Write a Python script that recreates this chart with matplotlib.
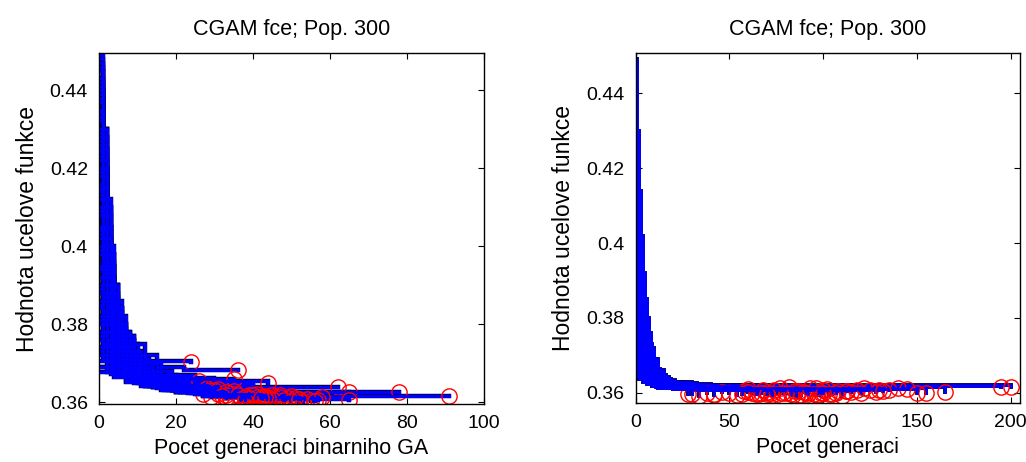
import matplotlib
matplotlib.use("Agg")
import matplotlib.pyplot as plt

plt.rcParams['font.family'] = ['Liberation Sans', 'DejaVu Sans']

title_text = "CGAM fce; Pop. 300"
ylabel_text = "Hodnota ucelove funkce"
xlabel_left = "Pocet generaci binarniho GA"
xlabel_right = "Pocet generaci"

left_xticks = [0, 20, 40, 60, 80, 100]
right_xticks = [0, 50, 100, 150, 200]
yticks = [0.36, 0.38, 0.40, 0.42, 0.44]
ytick_labels = ["0.36", "0.38", "0.4", "0.42", "0.44"]

# binary GA runs: generation breakpoints and best values (step curves)
bin_gens = [
    [0, 1, 2, 4, 7, 12, 24],
    [0, 1, 3, 5, 9, 15, 22, 36],
    [0, 2, 4, 6, 10, 16, 25, 40, 62],
    [0, 1, 2, 4, 8, 14, 22, 35, 50, 65],
    [0, 1, 3, 6, 10, 18, 30, 45, 78],
    [0, 2, 5, 9, 15, 25, 40, 91],
    [0, 1, 2, 4, 7, 12, 20, 35, 50, 65],
    [0, 1, 2, 3, 5, 8, 13, 20, 28],
    [0, 1, 2, 4, 6, 10, 16, 24, 31],
    [0, 1, 3, 5, 8, 12, 19, 27, 34],
    [0, 1, 2, 3, 6, 9, 14, 22, 30, 38],
    [0, 2, 3, 5, 8, 13, 20, 29, 42],
    [0, 1, 2, 4, 7, 11, 17, 26, 35, 45],
    [0, 1, 3, 4, 7, 10, 15, 23, 33, 47],
    [0, 1, 2, 5, 8, 12, 18, 25, 36, 52],
    [0, 2, 4, 6, 9, 14, 21, 30, 44, 55],
    [0, 1, 2, 4, 6, 9, 13, 19, 27, 40],
    [0, 1, 3, 5, 7, 11, 16, 24, 32, 43],
    [0, 1, 2, 4, 7, 10, 15, 22, 30, 39, 48],
    [0, 2, 4, 7, 11, 17, 25, 33, 41],
    [0, 1, 3, 6, 9, 14, 20, 28, 37, 46],
    [0, 1, 2, 5, 8, 12, 18, 26, 34, 44, 57],
    [0, 2, 3, 6, 9, 13, 19, 27, 38, 50],
    [0, 1, 3, 5, 8, 12, 17, 25, 35],
    [0, 1, 2, 4, 6, 10, 15, 22, 29],
    [0, 2, 4, 7, 10, 15, 22, 31, 43, 54],
    [0, 1, 3, 6, 10, 16, 23, 32, 45],
    [0, 2, 5, 8, 12, 18, 26, 37, 49],
    [0, 1, 4, 7, 11, 17, 24, 33],
    [0, 2, 4, 8, 13, 20, 29, 39],
    [0, 1, 3, 6, 10, 15, 22, 30, 42],
    [0, 3, 6, 10, 16, 24, 36, 48, 58],
    [0, 2, 5, 9, 14, 21, 30, 40],
    [0, 4, 8, 14, 22, 30],
    [0, 5, 12, 20, 26],
    [0, 3, 7, 13, 21, 32, 47],
    [0, 1, 2, 3, 5, 8, 12, 18, 26, 37],
    [0, 1, 2, 3, 4, 6, 9, 14, 21, 30, 45],
    [0, 1, 2, 3, 5, 7, 11, 16, 23, 33],
    [0, 1, 2, 4, 6, 9, 13, 20, 29, 40, 53],
    [0, 1, 2, 3, 5, 8, 12, 19, 27],
    [0, 1, 3, 5, 8, 13, 20, 28, 36, 46],
    [0, 2, 5, 9, 15, 24, 35],
    [0, 1, 3, 6, 11, 19, 30, 44],
    [0, 1, 2, 4, 7, 11, 18, 27, 39],
    [0, 1, 2, 3, 5, 9, 14, 21, 32, 43],
    [0, 2, 4, 7, 12, 19, 28, 41, 51],
    [0, 1, 3, 5, 9, 14, 22, 31],
    [0, 1, 2, 3, 4, 5, 7, 10, 14, 20, 29],
    [0, 1, 2, 3, 4, 6, 8, 11, 16, 23, 33],
    [0, 1, 2, 3, 4, 5, 7, 10, 15, 22, 31, 41],
    [0, 1, 2, 3, 5, 7, 9, 13, 18, 26, 35, 44],
    [0, 1, 2, 3, 4, 6, 9, 12, 17, 24, 34, 50],
    [0, 1, 2, 3, 4, 5, 8, 11, 15, 21, 30, 39],
    [0, 1, 2, 3, 5, 6, 8, 12, 17, 25, 36],
    [0, 1, 2, 3, 4, 6, 9, 13, 19, 28, 40, 56],
    [0, 1, 2, 3, 4, 5, 7, 10, 14, 20, 27, 37],
    [0, 1, 2, 3, 4, 6, 8, 11, 15, 21, 30, 43],
    [0, 1, 2, 3, 5, 7, 10, 14, 19, 26, 35, 48],
    [0, 1, 2, 3, 4, 6, 8, 12, 17, 23, 32],
    [0, 1, 2, 3, 4, 6, 9, 13, 18, 25, 34, 45],
    [0, 1, 2, 3, 5, 7, 10, 14, 20, 28, 38],
    [0, 1, 2, 4, 6, 8, 11, 15, 21, 30, 41, 52],
    [0, 1, 2, 3, 5, 8, 12, 17, 24, 33, 44],
    [0, 1, 3, 5, 8, 12, 17, 24, 33, 43],
    [0, 2, 4, 7, 11, 16, 23, 31, 40],
    [0, 1, 2, 3, 4, 5, 6, 8, 11, 15, 22, 30, 38],
    [0, 1, 2, 3, 4, 5, 7, 9, 12, 16, 22, 30, 42],
]
bin_vals = [
    [0.449, 0.415, 0.395, 0.382, 0.375, 0.3705, 0.3702],
    [0.437, 0.405, 0.385, 0.377, 0.372, 0.369, 0.3682, 0.3682],
    [0.430, 0.400, 0.383, 0.375, 0.370, 0.367, 0.365, 0.3638, 0.3638],
    [0.425, 0.410, 0.390, 0.378, 0.370, 0.366, 0.364, 0.3632, 0.3627, 0.3627],
    [0.420, 0.398, 0.380, 0.372, 0.368, 0.365, 0.3635, 0.3625, 0.3625],
    [0.418, 0.390, 0.377, 0.370, 0.366, 0.364, 0.3615, 0.3615],
    [0.410, 0.390, 0.380, 0.372, 0.367, 0.364, 0.3625, 0.3615, 0.3608, 0.3605],
    [0.445, 0.420, 0.400, 0.385, 0.376, 0.370, 0.366, 0.364, 0.3635],
    [0.440, 0.412, 0.392, 0.380, 0.373, 0.368, 0.365, 0.363, 0.3620],
    [0.435, 0.400, 0.382, 0.375, 0.369, 0.366, 0.3635, 0.3615, 0.3610],
    [0.432, 0.418, 0.398, 0.386, 0.375, 0.369, 0.365, 0.3628, 0.3612, 0.3600],
    [0.428, 0.395, 0.384, 0.376, 0.370, 0.366, 0.3638, 0.3622, 0.3610],
    [0.424, 0.405, 0.390, 0.379, 0.371, 0.367, 0.3645, 0.3630, 0.3618, 0.3605],
    [0.420, 0.400, 0.388, 0.378, 0.372, 0.368, 0.3655, 0.3638, 0.3625, 0.3618],
    [0.415, 0.398, 0.385, 0.375, 0.369, 0.366, 0.364, 0.3625, 0.3612, 0.3600],
    [0.412, 0.392, 0.380, 0.373, 0.368, 0.365, 0.363, 0.3618, 0.3608, 0.3602],
    [0.408, 0.396, 0.386, 0.377, 0.371, 0.367, 0.3645, 0.3630, 0.3620, 0.3612],
    [0.405, 0.392, 0.380, 0.374, 0.370, 0.3665, 0.3645, 0.3632, 0.3622, 0.3615],
    [0.402, 0.390, 0.381, 0.374, 0.369, 0.366, 0.364, 0.3628, 0.3618, 0.3610, 0.3604],
    [0.400, 0.385, 0.376, 0.370, 0.367, 0.3648, 0.3635, 0.3625, 0.3620],
    [0.398, 0.388, 0.379, 0.372, 0.368, 0.3655, 0.3638, 0.3626, 0.3617, 0.3608],
    [0.395, 0.387, 0.380, 0.373, 0.369, 0.366, 0.364, 0.3628, 0.3618, 0.3610, 0.3605],
    [0.392, 0.382, 0.377, 0.371, 0.368, 0.3655, 0.3640, 0.3628, 0.3620, 0.3615],
    [0.390, 0.382, 0.376, 0.372, 0.369, 0.3665, 0.3648, 0.3635, 0.3628],
    [0.388, 0.381, 0.376, 0.372, 0.369, 0.366, 0.3645, 0.3635, 0.3630],
    [0.386, 0.378, 0.373, 0.369, 0.3665, 0.3648, 0.3635, 0.3624, 0.3614, 0.3608],
    [0.384, 0.378, 0.373, 0.369, 0.3665, 0.3648, 0.3636, 0.3626, 0.3618],
    [0.382, 0.375, 0.370, 0.367, 0.365, 0.3635, 0.3625, 0.3616, 0.3610],
    [0.380, 0.375, 0.371, 0.368, 0.3658, 0.3642, 0.3632, 0.3625],
    [0.378, 0.373, 0.370, 0.367, 0.3652, 0.3638, 0.3626, 0.3618],
    [0.376, 0.372, 0.369, 0.3668, 0.3650, 0.3638, 0.3628, 0.3620, 0.3613],
    [0.374, 0.370, 0.368, 0.366, 0.3645, 0.3632, 0.3622, 0.3615, 0.3612],
    [0.372, 0.369, 0.3668, 0.3650, 0.3638, 0.3628, 0.3620, 0.3614],
    [0.3705, 0.368, 0.3662, 0.3648, 0.3636, 0.3630],
    [0.3678, 0.3668, 0.3660, 0.3655, 0.3655],
    [0.3690, 0.3672, 0.3655, 0.3640, 0.3628, 0.3618, 0.3612],
    [0.446, 0.425, 0.405, 0.390, 0.378, 0.371, 0.367, 0.3645, 0.3625, 0.3602],
    [0.442, 0.430, 0.410, 0.395, 0.384, 0.376, 0.370, 0.366, 0.3635, 0.3615, 0.3600],
    [0.438, 0.420, 0.402, 0.390, 0.380, 0.373, 0.368, 0.3650, 0.3630, 0.3610],
    [0.434, 0.415, 0.398, 0.384, 0.376, 0.370, 0.3665, 0.3640, 0.3622, 0.3608, 0.3600],
    [0.427, 0.405, 0.392, 0.382, 0.374, 0.369, 0.3655, 0.3632, 0.3620],
    [0.422, 0.402, 0.386, 0.377, 0.371, 0.367, 0.3645, 0.3628, 0.3615, 0.3603],
    [0.395, 0.380, 0.372, 0.368, 0.3665, 0.3660, 0.3660],
    [0.410, 0.392, 0.379, 0.372, 0.368, 0.3662, 0.3655, 0.3650],
    [0.416, 0.397, 0.384, 0.375, 0.369, 0.3660, 0.3640, 0.3626, 0.3616],
    [0.426, 0.408, 0.393, 0.382, 0.374, 0.368, 0.3650, 0.3632, 0.3618, 0.3607],
    [0.404, 0.386, 0.377, 0.370, 0.3665, 0.3645, 0.3630, 0.3618, 0.3610],
    [0.413, 0.394, 0.381, 0.374, 0.369, 0.3660, 0.3642, 0.3633],
    [0.448, 0.430, 0.410, 0.395, 0.385, 0.378, 0.372, 0.368, 0.365, 0.363, 0.3612],
    [0.443, 0.418, 0.400, 0.390, 0.381, 0.374, 0.370, 0.367, 0.3648, 0.3632, 0.3618],
    [0.439, 0.422, 0.405, 0.392, 0.384, 0.377, 0.372, 0.368, 0.3655, 0.3638, 0.3622, 0.3612],
    [0.433, 0.410, 0.395, 0.384, 0.376, 0.371, 0.368, 0.3655, 0.3638, 0.3625, 0.3615, 0.3608],
    [0.429, 0.412, 0.398, 0.388, 0.380, 0.373, 0.369, 0.3665, 0.3645, 0.3630, 0.3618, 0.3604],
    [0.423, 0.408, 0.396, 0.386, 0.379, 0.374, 0.369, 0.366, 0.3642, 0.3628, 0.3617, 0.3610],
    [0.419, 0.404, 0.392, 0.383, 0.376, 0.372, 0.369, 0.3662, 0.3643, 0.3628, 0.3618],
    [0.414, 0.401, 0.390, 0.382, 0.376, 0.371, 0.367, 0.3648, 0.3632, 0.3620, 0.3611, 0.3603],
    [0.409, 0.397, 0.387, 0.380, 0.375, 0.371, 0.368, 0.3655, 0.3638, 0.3625, 0.3615, 0.3607],
    [0.403, 0.393, 0.385, 0.379, 0.374, 0.370, 0.3675, 0.3655, 0.3640, 0.3627, 0.3617, 0.3609],
    [0.399, 0.390, 0.383, 0.377, 0.372, 0.3685, 0.3660, 0.3642, 0.3630, 0.3620, 0.3612, 0.3606],
    [0.394, 0.386, 0.380, 0.376, 0.372, 0.369, 0.3668, 0.3648, 0.3634, 0.3624, 0.3616],
    [0.389, 0.383, 0.378, 0.374, 0.371, 0.368, 0.3658, 0.3642, 0.3630, 0.3621, 0.3614, 0.3609],
    [0.385, 0.380, 0.376, 0.373, 0.3695, 0.3670, 0.3652, 0.3638, 0.3627, 0.3619, 0.3613],
    [0.381, 0.377, 0.374, 0.371, 0.3685, 0.3665, 0.3650, 0.3637, 0.3627, 0.3619, 0.3612, 0.3607],
    [0.377, 0.374, 0.372, 0.3698, 0.3678, 0.3660, 0.3646, 0.3634, 0.3625, 0.3617, 0.3611],
    [0.373, 0.371, 0.369, 0.3672, 0.3656, 0.3642, 0.3632, 0.3624, 0.3617, 0.3612],
    [0.369, 0.3678, 0.3665, 0.3652, 0.3641, 0.3632, 0.3625, 0.3620, 0.3618],
    [0.447, 0.428, 0.412, 0.398, 0.388, 0.381, 0.376, 0.371, 0.367, 0.3645, 0.3628, 0.3615, 0.3606],
    [0.441, 0.425, 0.408, 0.396, 0.387, 0.380, 0.374, 0.370, 0.367, 0.3648, 0.3632, 0.3620, 0.3611],
]

# real-coded GA runs
real_gens = [
    [0, 1, 2, 3, 4, 6, 9, 14, 22, 200],
    [0, 1, 2, 3, 5, 7, 11, 17, 26, 195],
    [0, 1, 2, 4, 6, 9, 14, 21, 40, 165],
    [0, 1, 2, 3, 5, 8, 12, 18, 30, 60, 155],
    [0, 1, 2, 3, 5, 8, 12, 19, 33, 80, 140],
    [0, 1, 2, 3, 4, 6, 9, 13, 20, 45, 135],
    [0, 1, 2, 3, 5, 7, 10, 15, 24, 50, 128],
    [0, 1, 2, 4, 6, 8, 12, 18, 28, 70, 120],
    [0, 1, 2, 3, 4, 6, 9, 14, 22, 55, 112],
    [0, 1, 2, 3, 5, 7, 10, 16, 25, 48, 105],
    [0, 1, 2, 3, 4, 6, 8, 12, 19, 40, 100],
    [0, 1, 2, 4, 5, 8, 11, 17, 26, 60, 97],
    [0, 1, 2, 3, 5, 7, 10, 14, 21, 45, 93],
    [0, 1, 2, 3, 4, 6, 9, 13, 20, 52, 90],
    [0, 1, 2, 3, 5, 8, 11, 16, 24, 50, 86],
    [0, 1, 2, 4, 6, 8, 12, 17, 27, 55, 82],
    [0, 1, 2, 3, 4, 7, 10, 15, 23, 45, 78],
    [0, 1, 2, 3, 5, 7, 11, 16, 25, 48, 74],
    [0, 1, 2, 3, 4, 6, 9, 14, 21, 40, 70],
    [0, 1, 2, 4, 6, 9, 13, 19, 28, 46, 66],
    [0, 1, 2, 3, 5, 7, 10, 15, 22, 38, 62],
    [0, 1, 2, 3, 4, 6, 9, 13, 19, 35, 58],
    [0, 1, 2, 3, 5, 8, 12, 17, 25, 40, 54],
    [0, 1, 2, 4, 5, 7, 10, 14, 21, 33, 50],
    [0, 1, 2, 3, 4, 6, 8, 12, 18, 30, 46],
    [0, 1, 2, 3, 5, 7, 11, 16, 24, 42],
    [0, 1, 2, 3, 4, 6, 9, 14, 21, 38],
    [0, 1, 2, 4, 6, 8, 12, 17, 25, 34],
    [0, 1, 2, 3, 5, 7, 10, 15, 22, 30],
    [0, 1, 2, 3, 4, 6, 9, 13, 20, 28],
    [0, 1, 2, 3, 5, 8, 12, 18, 30, 65, 108],
    [0, 1, 2, 3, 4, 6, 10, 15, 24, 50, 95],
    [0, 1, 2, 4, 6, 9, 13, 19, 30, 60, 88],
    [0, 1, 2, 3, 5, 7, 11, 17, 26, 55, 102],
    [0, 1, 2, 3, 4, 7, 10, 14, 22, 44, 76],
    [0, 1, 2, 3, 5, 8, 12, 18, 27, 48, 68],
    [0, 1, 2, 4, 5, 7, 11, 16, 24, 60, 115],
    [0, 1, 2, 3, 4, 6, 9, 14, 21, 42, 84],
    [0, 1, 2, 3, 5, 7, 10, 15, 23, 56, 125],
    [0, 1, 2, 3, 4, 6, 8, 12, 19, 36, 80],
    [0, 1, 2, 3, 5, 8, 11, 16, 25, 52, 98],
    [0, 1, 2, 4, 6, 8, 12, 18, 27, 44, 60],
    [0, 1, 2, 3, 4, 6, 9, 13, 20, 40, 72],
    [0, 1, 2, 3, 5, 7, 10, 15, 22, 47, 110],
    [0, 1, 2, 3, 4, 6, 9, 14, 21, 36, 145],
    [0, 1, 2, 3, 4, 5, 6, 8, 10, 13, 17, 23, 35, 60],
    [0, 1, 2, 3, 4, 5, 7, 9, 12, 16, 21, 30, 55, 92],
    [0, 1, 2, 3, 4, 5, 6, 8, 11, 14, 19, 27, 45, 103],
    [0, 1, 2, 3, 4, 5, 7, 9, 12, 15, 20, 28, 50, 118],
    [0, 1, 2, 3, 4, 6, 8, 10, 13, 17, 23, 33, 57],
    [0, 1, 2, 3, 4, 5, 6, 8, 10, 13, 18, 26, 40, 87],
    [0, 1, 2, 3, 4, 5, 7, 9, 11, 14, 19, 27, 44, 96],
    [0, 1, 2, 3, 4, 5, 6, 8, 10, 13, 17, 24, 38, 64],
    [0, 1, 2, 3, 4, 6, 8, 10, 13, 17, 22, 31, 48, 107],
    [0, 1, 2, 3, 4, 5, 7, 9, 12, 15, 20, 29, 42],
    [0, 1, 2, 3, 4, 5, 6, 8, 11, 14, 18, 25, 39, 77],
    [0, 1, 2, 3, 4, 5, 7, 9, 12, 16, 21, 30, 52, 99],
    [0, 1, 2, 3, 4, 6, 8, 11, 14, 18, 24, 34, 83],
    [0, 1, 2, 3, 4, 5, 7, 9, 12, 16, 22, 32, 61, 130],
    [0, 1, 2, 3, 5, 7, 9, 12, 16, 21, 29, 47, 91],
    [0, 1, 2, 3, 4, 6, 8, 11, 15, 20, 28, 43, 73],
    [0, 1, 2, 4, 6, 8, 11, 15, 20, 27, 40, 67],
    [0, 1, 3, 5, 7, 10, 14, 19, 26, 38, 58, 113],
    [0, 2, 4, 6, 9, 13, 18, 25, 36, 53, 122],
    [0, 1, 2, 3, 4, 5, 6, 7, 9, 11, 14, 18, 25, 40, 150],
    [0, 1, 2, 3, 4, 5, 6, 7, 8, 10, 12, 15, 18, 22, 28, 40, 85],
    [0, 1, 2, 3, 4, 5, 6, 7, 8, 9, 11, 13, 16, 20, 26, 36, 100],
    [0, 1, 2, 3, 4, 5, 6, 7, 9, 11, 13, 16, 19, 24, 32, 70],
    [0, 1, 2, 3, 4, 5, 6, 8, 10, 12, 15, 18, 22, 28, 38, 132],
]
real_vals = [
    [0.449, 0.420, 0.398, 0.385, 0.376, 0.369, 0.365, 0.3630, 0.3620, 0.3617],
    [0.440, 0.412, 0.393, 0.381, 0.372, 0.367, 0.364, 0.3628, 0.3618, 0.3615],
    [0.436, 0.405, 0.388, 0.375, 0.369, 0.3655, 0.3635, 0.3625, 0.3615, 0.3602],
    [0.432, 0.410, 0.392, 0.380, 0.372, 0.367, 0.364, 0.3628, 0.3620, 0.3612, 0.3600],
    [0.428, 0.404, 0.387, 0.377, 0.370, 0.366, 0.3638, 0.3626, 0.3620, 0.3614, 0.3612],
    [0.425, 0.400, 0.385, 0.375, 0.369, 0.3655, 0.3636, 0.3625, 0.3618, 0.3612, 0.3608],
    [0.421, 0.398, 0.383, 0.374, 0.368, 0.365, 0.3635, 0.3624, 0.3618, 0.3612, 0.3603],
    [0.418, 0.395, 0.380, 0.372, 0.367, 0.3648, 0.3634, 0.3624, 0.3617, 0.3611, 0.3600],
    [0.414, 0.394, 0.381, 0.373, 0.368, 0.3652, 0.3636, 0.3625, 0.3619, 0.3613, 0.3605],
    [0.410, 0.392, 0.380, 0.372, 0.367, 0.3648, 0.3634, 0.3623, 0.3617, 0.3611, 0.3597],
    [0.406, 0.390, 0.379, 0.372, 0.367, 0.3648, 0.3635, 0.3625, 0.3618, 0.3613, 0.3608],
    [0.402, 0.388, 0.377, 0.370, 0.367, 0.3648, 0.3634, 0.3624, 0.3618, 0.3612, 0.3595],
    [0.398, 0.386, 0.377, 0.371, 0.3665, 0.3645, 0.3632, 0.3623, 0.3618, 0.3614, 0.3612],
    [0.395, 0.384, 0.376, 0.370, 0.3665, 0.3645, 0.3632, 0.3623, 0.3617, 0.3612, 0.3602],
    [0.392, 0.382, 0.375, 0.370, 0.3662, 0.3643, 0.3630, 0.3622, 0.3617, 0.3611, 0.3593],
    [0.389, 0.380, 0.374, 0.369, 0.3658, 0.3641, 0.3630, 0.3622, 0.3618, 0.3615, 0.3615],
    [0.386, 0.378, 0.372, 0.368, 0.3655, 0.3640, 0.3629, 0.3621, 0.3616, 0.3611, 0.3599],
    [0.383, 0.376, 0.371, 0.3675, 0.3652, 0.3638, 0.3628, 0.3621, 0.3616, 0.3612, 0.3608],
    [0.380, 0.374, 0.370, 0.3668, 0.3650, 0.3636, 0.3627, 0.3620, 0.3616, 0.3612, 0.3603],
    [0.377, 0.372, 0.3685, 0.3662, 0.3647, 0.3635, 0.3627, 0.3620, 0.3616, 0.3612, 0.3596],
    [0.374, 0.370, 0.3675, 0.3656, 0.3643, 0.3633, 0.3625, 0.3619, 0.3615, 0.3612, 0.3601],
    [0.371, 0.3685, 0.3666, 0.3651, 0.3640, 0.3631, 0.3624, 0.3619, 0.3615, 0.3612, 0.3605],
    [0.368, 0.3665, 0.3653, 0.3643, 0.3635, 0.3628, 0.3622, 0.3617, 0.3614, 0.3611, 0.3594],
    [0.3655, 0.3648, 0.3641, 0.3635, 0.3629, 0.3624, 0.3620, 0.3616, 0.3613, 0.3611, 0.3600],
    [0.440, 0.410, 0.390, 0.378, 0.370, 0.366, 0.3638, 0.3626, 0.3618, 0.3612, 0.3603],
    [0.430, 0.402, 0.385, 0.375, 0.369, 0.3655, 0.3634, 0.3622, 0.3615, 0.3597],
    [0.420, 0.396, 0.382, 0.373, 0.368, 0.3650, 0.3632, 0.3620, 0.3614, 0.3601],
    [0.410, 0.390, 0.378, 0.371, 0.3665, 0.3643, 0.3629, 0.3619, 0.3613, 0.3593],
    [0.400, 0.385, 0.376, 0.370, 0.3660, 0.3640, 0.3627, 0.3618, 0.3612, 0.3598],
    [0.390, 0.380, 0.373, 0.368, 0.3652, 0.3637, 0.3625, 0.3617, 0.3611, 0.3596],
    [0.445, 0.415, 0.395, 0.382, 0.373, 0.367, 0.3642, 0.3627, 0.3619, 0.3613, 0.3604],
    [0.437, 0.408, 0.390, 0.378, 0.371, 0.3662, 0.3637, 0.3624, 0.3617, 0.3612, 0.3598],
    [0.427, 0.400, 0.384, 0.374, 0.368, 0.3652, 0.3634, 0.3623, 0.3617, 0.3612, 0.3594],
    [0.418, 0.396, 0.382, 0.373, 0.368, 0.3654, 0.3634, 0.3623, 0.3617, 0.3613, 0.3610],
    [0.408, 0.391, 0.380, 0.372, 0.3675, 0.3648, 0.3632, 0.3622, 0.3616, 0.3612, 0.3597],
    [0.399, 0.386, 0.377, 0.371, 0.3668, 0.3645, 0.3630, 0.3621, 0.3616, 0.3613, 0.3609],
    [0.388, 0.380, 0.374, 0.369, 0.3660, 0.3641, 0.3629, 0.3621, 0.3616, 0.3612, 0.3603],
    [0.379, 0.374, 0.370, 0.3668, 0.3650, 0.3636, 0.3626, 0.3619, 0.3615, 0.3611, 0.3595],
    [0.434, 0.406, 0.388, 0.377, 0.370, 0.3660, 0.3636, 0.3623, 0.3617, 0.3612, 0.3609],
    [0.424, 0.400, 0.385, 0.375, 0.369, 0.3655, 0.3636, 0.3624, 0.3617, 0.3612, 0.3600],
    [0.414, 0.394, 0.381, 0.373, 0.368, 0.3650, 0.3632, 0.3621, 0.3616, 0.3612, 0.3594],
    [0.404, 0.389, 0.378, 0.371, 0.3668, 0.3645, 0.3630, 0.3621, 0.3616, 0.3613, 0.3610],
    [0.394, 0.383, 0.376, 0.370, 0.3662, 0.3642, 0.3629, 0.3620, 0.3615, 0.3612, 0.3601],
    [0.384, 0.377, 0.372, 0.368, 0.3655, 0.3638, 0.3627, 0.3619, 0.3615, 0.3612, 0.3592],
    [0.372, 0.3695, 0.3672, 0.3655, 0.3642, 0.3632, 0.3625, 0.3619, 0.3615, 0.3612, 0.3610],
    [0.447, 0.425, 0.405, 0.390, 0.380, 0.373, 0.369, 0.366, 0.364, 0.3630, 0.3622, 0.3617, 0.3613, 0.3603],
    [0.442, 0.418, 0.400, 0.386, 0.377, 0.371, 0.367, 0.3648, 0.3633, 0.3623, 0.3618, 0.3614, 0.3611, 0.3597],
    [0.438, 0.415, 0.397, 0.385, 0.376, 0.370, 0.3665, 0.3645, 0.3631, 0.3622, 0.3617, 0.3613, 0.3610, 0.3596],
    [0.433, 0.410, 0.394, 0.383, 0.375, 0.370, 0.366, 0.3642, 0.3630, 0.3622, 0.3617, 0.3614, 0.3611, 0.3608],
    [0.429, 0.405, 0.390, 0.380, 0.373, 0.368, 0.365, 0.3635, 0.3624, 0.3618, 0.3614, 0.3611, 0.3598],
    [0.424, 0.403, 0.388, 0.378, 0.372, 0.368, 0.3655, 0.3640, 0.3628, 0.3620, 0.3615, 0.3612, 0.3610, 0.3606],
    [0.419, 0.400, 0.386, 0.377, 0.371, 0.367, 0.3645, 0.3632, 0.3623, 0.3617, 0.3613, 0.3611, 0.3609, 0.3612],
    [0.415, 0.397, 0.384, 0.376, 0.370, 0.3665, 0.3645, 0.3632, 0.3623, 0.3617, 0.3613, 0.3611, 0.3609, 0.3597],
    [0.411, 0.394, 0.382, 0.374, 0.369, 0.3655, 0.3637, 0.3626, 0.3619, 0.3614, 0.3612, 0.3610, 0.3608, 0.3600],
    [0.407, 0.391, 0.380, 0.373, 0.368, 0.3655, 0.3637, 0.3626, 0.3618, 0.3614, 0.3612, 0.3610, 0.3595],
    [0.403, 0.388, 0.378, 0.372, 0.3675, 0.3650, 0.3636, 0.3625, 0.3618, 0.3614, 0.3612, 0.3610, 0.3609, 0.3613],
    [0.398, 0.385, 0.376, 0.370, 0.3665, 0.3646, 0.3632, 0.3622, 0.3616, 0.3613, 0.3611, 0.3610, 0.3608, 0.3601],
    [0.393, 0.382, 0.374, 0.369, 0.3660, 0.3640, 0.3628, 0.3619, 0.3614, 0.3612, 0.3610, 0.3609, 0.3597],
    [0.388, 0.379, 0.372, 0.368, 0.3655, 0.3640, 0.3628, 0.3619, 0.3614, 0.3612, 0.3610, 0.3609, 0.3608, 0.3607],
    [0.383, 0.376, 0.371, 0.367, 0.3647, 0.3634, 0.3625, 0.3618, 0.3614, 0.3612, 0.3610, 0.3609, 0.3599],
    [0.378, 0.373, 0.369, 0.366, 0.3647, 0.3632, 0.3623, 0.3617, 0.3613, 0.3611, 0.3610, 0.3609, 0.3594],
    [0.373, 0.370, 0.367, 0.3650, 0.3636, 0.3627, 0.3620, 0.3615, 0.3612, 0.3611, 0.3610, 0.3600],
    [0.368, 0.3665, 0.3650, 0.3639, 0.3630, 0.3622, 0.3617, 0.3614, 0.3612, 0.3611, 0.3610, 0.3604],
    [0.3645, 0.3637, 0.3630, 0.3624, 0.3619, 0.3615, 0.3613, 0.3611, 0.3610, 0.3609, 0.3614],
    [0.446, 0.430, 0.412, 0.398, 0.387, 0.379, 0.373, 0.369, 0.366, 0.364, 0.3628, 0.3619, 0.3614, 0.3611, 0.3600],
    [0.443, 0.428, 0.414, 0.402, 0.392, 0.385, 0.380, 0.376, 0.372, 0.369, 0.366, 0.364, 0.3628, 0.3619, 0.3614, 0.3611, 0.3606],
    [0.435, 0.422, 0.410, 0.400, 0.391, 0.384, 0.379, 0.375, 0.371, 0.368, 0.3655, 0.3640, 0.3630, 0.3621, 0.3615, 0.3612, 0.3599],
    [0.426, 0.414, 0.403, 0.394, 0.387, 0.381, 0.377, 0.373, 0.369, 0.3665, 0.3648, 0.3634, 0.3624, 0.3617, 0.3613, 0.3596],
    [0.417, 0.407, 0.398, 0.390, 0.384, 0.379, 0.375, 0.371, 0.368, 0.3655, 0.3640, 0.3628, 0.3620, 0.3615, 0.3612, 0.3605],
]

FS_TICK = 14
FS_TITLE = 15.5
FS_XLABEL = 15.5
FS_YLABEL = 16.5
EDGE = (0.0, 0.0, 0.35)
BLUE = (0.0, 0.0, 1.0)
RED = (1.0, 0.0, 0.0)

fig = plt.figure(figsize=(10.26, 4.62), dpi=100)
ax1 = fig.add_axes([0.0965, 0.1255, 0.3752, 0.7597])
ax2 = fig.add_axes([0.6194, 0.1277, 0.3748, 0.7573])


def draw(ax, gens, vals, lw):
    for g, v in zip(gens, vals):
        ax.plot(g, v, drawstyle='steps-post', color=EDGE, lw=lw + 1.0,
                solid_joinstyle='miter')
    for g, v in zip(gens, vals):
        ax.plot(g, v, drawstyle='steps-post', color=BLUE, lw=lw,
                solid_joinstyle='miter')
        ax.plot(g[-1], v[-1], 'o', mfc='none', mec=RED, mew=1.0, ms=11)


draw(ax1, bin_gens, bin_vals, 2.2)
draw(ax2, real_gens, real_vals, 1.8)

ax1.set_xlim(0, 100)
ax1.set_ylim(0.3595, 0.4495)
ax1.set_xticks(left_xticks)
ax1.set_xlabel(xlabel_left, fontsize=FS_XLABEL, labelpad=4)

ax2.set_xlim(0, 205)
ax2.set_ylim(0.3573, 0.4507)
ax2.set_xticks(right_xticks)
ax2.set_xlabel(xlabel_right, fontsize=FS_XLABEL, labelpad=4)

for ax in (ax1, ax2):
    ax.set_yticks(yticks)
    ax.set_yticklabels(ytick_labels)
    ax.set_title(title_text, fontsize=FS_TITLE, pad=13)
    ax.set_ylabel(ylabel_text, fontsize=FS_YLABEL, labelpad=8)
    ax.tick_params(direction='in', top=True, right=True, labelsize=FS_TICK,
                   length=4, width=0.8, pad=8)
    for s in ax.spines.values():
        s.set_linewidth(1.0)

fig.savefig("out.png", dpi=100)
